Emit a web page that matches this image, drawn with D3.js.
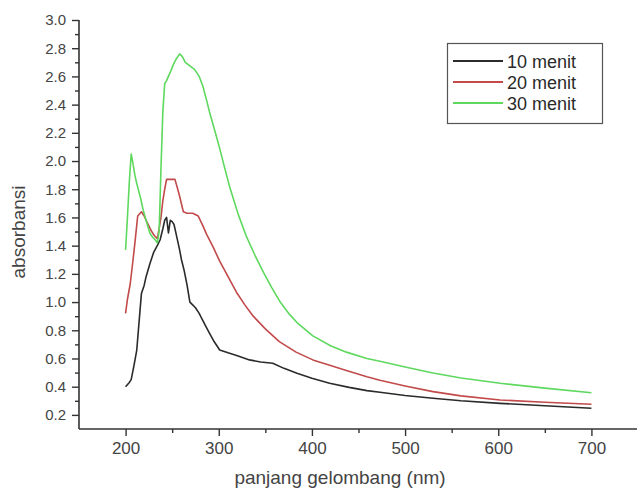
<!DOCTYPE html>
<html>
<head>
<meta charset="utf-8">
<script src="https://cdn.jsdelivr.net/npm/d3@7"></script>
<style>
  html, body { margin: 0; padding: 0; background: #fff; }
  svg { display: block; font-family: "Liberation Sans", Arial, sans-serif; }
</style>
</head>
<body>
<svg id="chart" width="637" height="494"></svg>
<script>
// UV-Vis absorption spectra at three contact times
const seriesNames = ["10 menit", "20 menit", "30 menit"];
const seriesColors = ["#2b2b2b", "#c24a4a", "#5ed85e"];

const wl10 = [200, 204, 206, 209, 212, 215, 217, 220, 222, 226, 230, 234, 237, 240, 242, 244, 246, 248, 250, 252, 255, 258, 260, 263, 266, 269, 272, 275, 279, 282, 286, 290, 295, 301, 310, 320, 333, 345, 358, 370, 384, 400, 419, 440, 459, 473, 500, 530, 560, 602, 650, 700];
const abs10 = [0.40, 0.43, 0.45, 0.55, 0.66, 0.90, 1.06, 1.12, 1.18, 1.27, 1.35, 1.40, 1.44, 1.52, 1.58, 1.60, 1.49, 1.58, 1.57, 1.55, 1.46, 1.37, 1.30, 1.22, 1.12, 1.00, 0.98, 0.96, 0.92, 0.88, 0.83, 0.78, 0.72, 0.66, 0.64, 0.62, 0.59, 0.575, 0.566, 0.53, 0.495, 0.46, 0.424, 0.395, 0.372, 0.36, 0.338, 0.318, 0.30, 0.282, 0.265, 0.247];

const wl20 = [200, 202, 205, 208, 210, 213, 217, 220, 222, 225, 228, 231, 234, 236, 238, 240, 242, 244, 253, 256, 258, 262, 266, 272, 278, 283, 287, 294, 301, 310, 319, 328, 337, 350, 365, 383, 401, 420, 437, 459, 473, 500, 530, 560, 602, 650, 700];
const abs20 = [0.92, 1.02, 1.13, 1.30, 1.42, 1.61, 1.64, 1.61, 1.58, 1.54, 1.50, 1.47, 1.45, 1.52, 1.60, 1.72, 1.80, 1.87, 1.87, 1.80, 1.75, 1.64, 1.63, 1.63, 1.61, 1.54, 1.48, 1.39, 1.29, 1.18, 1.07, 0.98, 0.90, 0.81, 0.72, 0.645, 0.59, 0.55, 0.515, 0.47, 0.445, 0.405, 0.365, 0.335, 0.306, 0.29, 0.275];

const wl30 = [200, 202, 204, 206, 208, 210, 212, 216, 219, 222, 226, 229, 232, 234, 236, 237, 238, 239, 240, 241, 242, 244, 246, 248, 251, 254, 258, 261, 264, 268, 274, 279, 283, 287, 290, 296, 301, 306, 312, 321, 330, 339, 348, 357, 366, 375, 384, 401, 420, 437, 459, 473, 500, 530, 560, 602, 650, 700];
const abs30 = [1.37, 1.60, 1.85, 2.05, 1.98, 1.90, 1.84, 1.74, 1.65, 1.58, 1.49, 1.46, 1.44, 1.42, 1.50, 1.72, 1.95, 2.15, 2.35, 2.45, 2.55, 2.57, 2.60, 2.63, 2.68, 2.72, 2.76, 2.74, 2.70, 2.68, 2.65, 2.60, 2.53, 2.43, 2.35, 2.21, 2.09, 1.96, 1.81, 1.62, 1.46, 1.33, 1.21, 1.10, 1.00, 0.92, 0.855, 0.76, 0.69, 0.645, 0.60, 0.58, 0.54, 0.497, 0.462, 0.424, 0.39, 0.357];

const xMajorTicks = [200, 300, 400, 500, 600, 700];
const xMinorTicks = [250, 350, 450, 550, 650];
const yMajorTicks = [0.2, 0.4, 0.6, 0.8, 1.0, 1.2, 1.4, 1.6, 1.8, 2.0, 2.2, 2.4, 2.6, 2.8, 3.0];
const yMinorTicks = [0.3, 0.5, 0.7, 0.9, 1.1, 1.3, 1.5, 1.7, 1.9, 2.1, 2.3, 2.5, 2.7, 2.9];

const xTitle = "panjang gelombang (nm)";
const yTitle = "absorbansi";

const wls = [wl10, wl20, wl30];
const absVals = [abs10, abs20, abs30];

const svg = d3.select("#chart");
const axisColor = "#333";
const textColor = "#444";

const x = d3.scaleLinear().domain([150, 750]).range([79, 638]);
const y = d3.scaleLinear().domain([0.1, 3.0]).range([429, 20]);

// x axis: major ticks outward, minor ticks small
const gx = svg.append("g").attr("transform", `translate(0,${y(0.1)})`);
gx.call(d3.axisBottom(x).tickValues(xMajorTicks).tickSize(7).tickPadding(6).tickFormat(d3.format("d")));
gx.append("g").call(d3.axisBottom(x).tickValues(xMinorTicks).tickSize(4).tickFormat(""))
  .select(".domain").remove();
gx.selectAll(".domain").attr("stroke", axisColor).attr("stroke-width", 1.6).attr("d", `M${x(150)},0H${x(750)}`);
gx.selectAll(".tick line").attr("stroke", axisColor).attr("stroke-width", 1.4);
gx.selectAll(".tick text").attr("fill", textColor).style("font-size", "17px");

// y axis
const gy = svg.append("g").attr("transform", `translate(${x(150)},0)`);
gy.call(d3.axisLeft(y).tickValues(yMajorTicks).tickSize(7).tickPadding(6).tickFormat(d3.format(".1f")));
gy.append("g").call(d3.axisLeft(y).tickValues(yMinorTicks).tickSize(4).tickFormat(""))
  .select(".domain").remove();
gy.selectAll(".domain").attr("stroke", axisColor).attr("stroke-width", 1.6).attr("d", `M0,${y(0.1)}V${y(3.0)}`);
gy.selectAll(".tick line").attr("stroke", axisColor).attr("stroke-width", 1.4);
gy.selectAll(".tick text").attr("fill", textColor).style("font-size", "15px");

// axis titles
svg.append("text")
  .attr("x", 340).attr("y", 484)
  .attr("text-anchor", "middle")
  .attr("fill", textColor)
  .style("font-size", "19px")
  .text(xTitle);

svg.append("text")
  .attr("transform", `translate(25,232) rotate(-90)`)
  .attr("text-anchor", "middle")
  .attr("fill", textColor)
  .style("font-size", "19px")
  .text(yTitle);

// spectra
const line = d3.line().x(d => x(d[0])).y(d => y(d[1]));
seriesNames.forEach((name, i) => {
  const pts = wls[i].map((w, j) => [w, absVals[i][j]]);
  svg.append("path")
    .datum(pts)
    .attr("fill", "none")
    .attr("stroke", seriesColors[i])
    .attr("stroke-width", 1.6)
    .attr("stroke-linejoin", "round")
    .attr("d", line);
});

// legend
const legend = svg.append("g");
legend.append("rect")
  .attr("x", 447.5).attr("y", 43.5)
  .attr("width", 155).attr("height", 80)
  .attr("fill", "#fff")
  .attr("stroke", "#555").attr("stroke-width", 1.2);
seriesNames.forEach((name, i) => {
  const cy = 61 + i * 21;
  legend.append("line")
    .attr("x1", 453).attr("x2", 503)
    .attr("y1", cy).attr("y2", cy)
    .attr("stroke", seriesColors[i]).attr("stroke-width", 1.8);
  legend.append("text")
    .attr("x", 507).attr("y", cy + 6.5)
    .attr("fill", "#2a2a2a")
    .style("font-size", "18px")
    .text(name);
});
</script>
</body>
</html>
